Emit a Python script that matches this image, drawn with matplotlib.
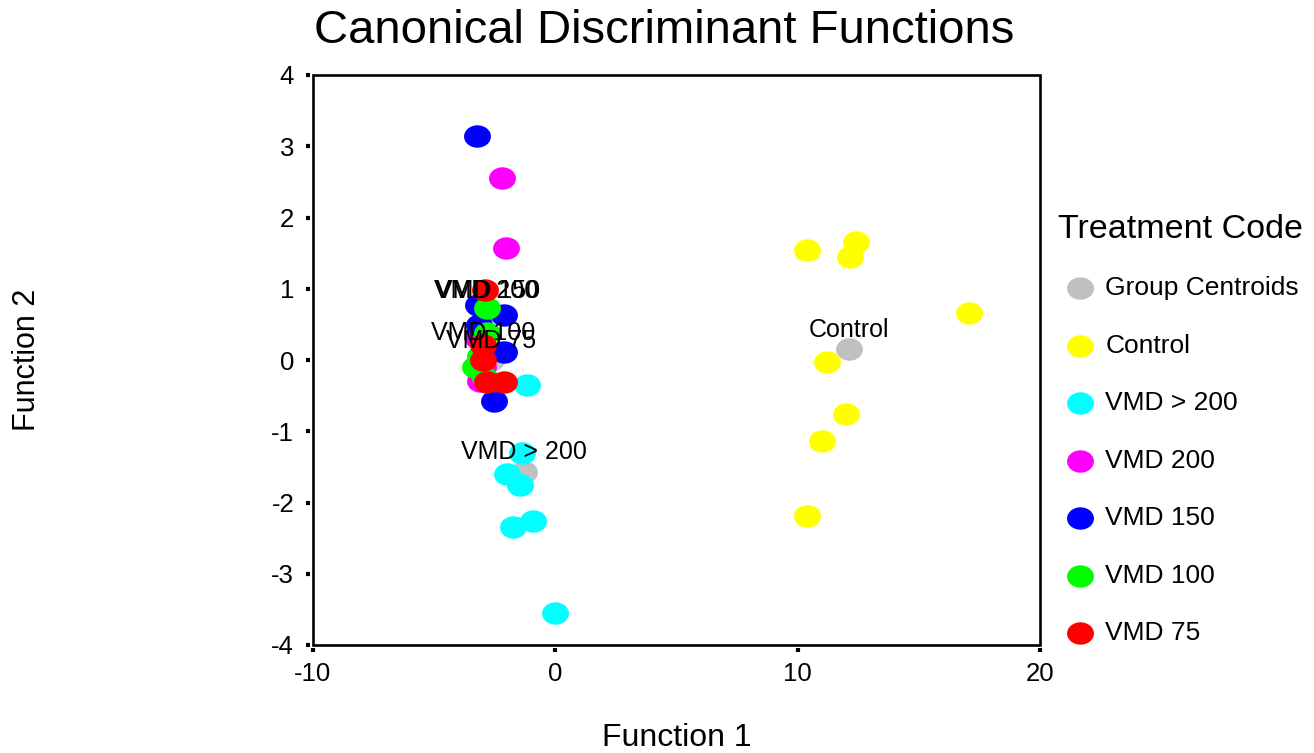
import matplotlib
matplotlib.use("Agg")
import matplotlib.pyplot as plt
import matplotlib.patches as patches
from matplotlib.path import Path
from matplotlib.transforms import Affine2D

plt.rcParams['font.family'] = ['Liberation Sans', 'DejaVu Sans']
plt.rcParams['axes.unicode_minus'] = False

# Discriminant scores per treatment group (Function 1, Function 2)
control_f1 = [10.37, 12.39, 12.18, 17.08, 11.19, 11.98, 10.99, 10.37]
control_f2 = [1.54, 1.66, 1.45, 0.66, -0.03, -0.76, -1.14, -2.19]

vmd_gt200_f1 = [-1.36, -1.98, -1.44, -0.91, -1.73, 0.0, -1.15]
vmd_gt200_f2 = [-1.31, -1.60, -1.75, -2.26, -2.34, -3.55, -0.35]

vmd200_f1 = [-2.22, -2.02, -3.20, -3.00, -3.10]
vmd200_f2 = [2.55, 1.57, 0.31, -0.10, -0.30]

vmd150_f1 = [-3.25, -3.21, -2.10, -3.13, -2.10, -2.55]
vmd150_f2 = [3.14, 0.77, 0.63, 0.49, 0.11, -0.58]

vmd100_f1 = [-2.80, -2.84, -3.33, -2.90, -3.10]
vmd100_f2 = [0.73, 0.38, -0.10, -0.25, 0.05]

vmd75_f1 = [-2.92, -3.00, -3.00, -2.80, -2.10]
vmd75_f2 = [0.98, 0.21, 0.00, -0.31, -0.31]

# Group centroids
centroid_names = ["Control", "VMD > 200", "VMD 200", "VMD 150", "VMD 100", "VMD 75"]
centroid_f1 = [12.10, -1.28, -2.84, -2.76, -2.96, -2.67]
centroid_f2 = [0.15, -1.57, 0.69, 0.69, 0.11, 0.00]

x_ticks = [-10, 0, 10, 20]
y_ticks = [-4, -3, -2, -1, 0, 1, 2, 3, 4]

groups = [
    ("Control", control_f1, control_f2, "#FFFF00"),
    ("VMD > 200", vmd_gt200_f1, vmd_gt200_f2, "#00FFFF"),
    ("VMD 200", vmd200_f1, vmd200_f2, "#FF00FF"),
    ("VMD 150", vmd150_f1, vmd150_f2, "#0000FF"),
    ("VMD 100", vmd100_f1, vmd100_f2, "#00FF00"),
    ("VMD 75", vmd75_f1, vmd75_f2, "#FF0000"),
]

# slightly flattened ellipse marker
ellipse = Path.unit_circle().transformed(Affine2D().scale(1.2, 1.0))
msize = 375

W, H = 1314, 753
fig = plt.figure(figsize=(W / 100, H / 100), dpi=100)
ax = fig.add_axes([313 / W, 1 - 645 / H, (1040 - 313) / W, (645 - 75) / H])

handles = []
h = ax.scatter(centroid_f1, centroid_f2, s=msize, marker=ellipse, color="#C0C0C0",
               linewidths=0, zorder=2, label="Group Centroids")
handles.append(h)
for name, f1, f2, col in groups:
    h = ax.scatter(f1, f2, s=msize, marker=ellipse, color=col, linewidths=0,
                   zorder=3, label=name)
    handles.append(h)

for name, cx, cy in zip(centroid_names, centroid_f1, centroid_f2):
    ax.annotate(name, (cx, cy), xytext=(0, 14), textcoords="offset points",
                ha="center", va="center", fontsize=18, zorder=5)

ax.set_xlim(-10, 20)
ax.set_ylim(-4, 4)
ax.set_xticks(x_ticks)
ax.set_yticks(y_ticks)

# detached square tick marks, frame drawn separately
for side in ["left", "bottom"]:
    ax.spines[side].set_position(("outward", 2))
for side in ax.spines:
    ax.spines[side].set_visible(False)
ax.tick_params(direction="out", length=3, width=3, labelsize=18.5, color="black")
ax.tick_params(axis="y", pad=8.5)
ax.tick_params(axis="x", pad=7)
frame = patches.Rectangle((0, 0), 1, 1, transform=ax.transAxes, fill=False,
                          edgecolor="black", linewidth=1.9, clip_on=False, zorder=6)
ax.add_patch(frame)

fig.text(664 / W, 1 - 31 / H, "Canonical Discriminant Functions", fontsize=34,
         ha="center", va="center")
fig.text(676.5 / W, 1 - 738 / H, "Function 1", fontsize=23, ha="center", va="center")
fig.text(27 / W, 1 - 360 / H, "Function 2", fontsize=22, ha="center", va="center",
         rotation=90)

fig.text(1058 / W, 1 - 230 / H, "Treatment Code", fontsize=24.5, ha="left", va="center")
fig.legend(handles=handles, loc="upper left", bbox_to_anchor=(1067 / W, 1 - 276 / H),
           bbox_transform=fig.transFigure, frameon=False, fontsize=19,
           borderpad=0, borderaxespad=0, handlelength=1.0, handletextpad=0.45,
           labelspacing=1.27, scatterpoints=1)

fig.savefig("out.png", dpi=100)
